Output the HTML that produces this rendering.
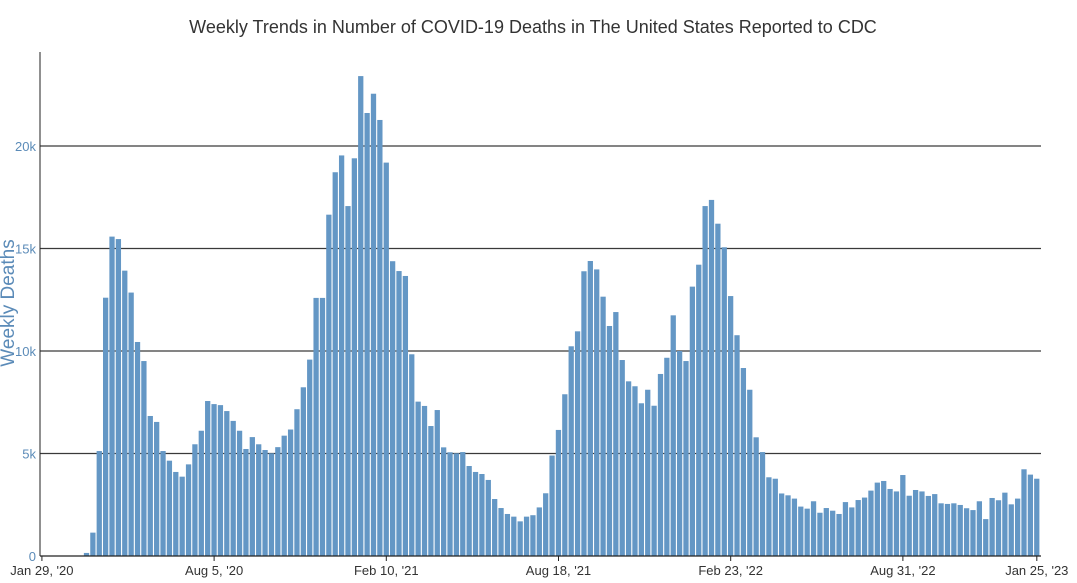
<!DOCTYPE html>
<html><head><meta charset="utf-8"><style>
body{margin:0;background:#fff;}
svg{display:block;font-family:"Liberation Sans",sans-serif;}
</style></head><body>
<svg id="chart" width="1077" height="583" viewBox="0 0 1077 583">
<text x="533" y="33" text-anchor="middle" font-size="18" fill="#333">Weekly Trends in Number of COVID-19 Deaths in The United States Reported to CDC</text>
<text transform="translate(14,303) rotate(-90)" text-anchor="middle" font-size="19" fill="#5b8bb8">Weekly Deaths</text>
<g id="grid"></g><g id="bars"></g><g id="axes"></g>
</svg>
<script>
const values=[0,0,0,0,0,0,0,150,1140,5120,12600,15580,15460,13920,12850,10440,9510,6830,6540,5120,4650,4100,3870,4470,5450,6110,7560,7410,7360,7070,6590,6110,5220,5800,5450,5170,5010,5310,5870,6170,7160,8230,9580,12590,12590,16650,18720,19540,17070,19400,23410,21610,22550,21270,19190,14380,13900,13660,9840,7530,7320,6340,7120,5300,5060,5010,5070,4390,4100,4000,3710,2780,2340,2050,1920,1690,1920,1990,2370,3060,4900,6150,7890,10230,10960,13890,14390,13980,12650,11220,11900,9560,8520,8280,7450,8110,7330,8880,9670,11740,10000,9510,13140,14210,17070,17370,16210,15060,12680,10770,9170,8110,5790,5070,3840,3770,3050,2960,2800,2410,2310,2670,2110,2340,2210,2050,2630,2370,2730,2850,3190,3580,3660,3270,3150,3950,2940,3220,3150,2930,3020,2570,2540,2570,2490,2330,2240,2670,1800,2830,2720,3090,2520,2800,4230,3970,3770];
const yTicks=[0,5000,10000,15000,20000];
const yTickLabels=["0","5k","10k","15k","20k"];
const xTickIdx=[0,27,54,81,108,135,156];
const xTickLabels=["Jan 29, '20","Aug 5, '20","Feb 10, '21","Aug 18, '21","Feb 23, '22","Aug 31, '22","Jan 25, '23"];
const NS="http://www.w3.org/2000/svg";
const X=i=>40+(i+0.3)*(1000/156.8);
const Y=v=>556-v*(410/20000);
const bw=1000/156.8;
function mk(tag,attrs,parent){const e=document.createElementNS(NS,tag);for(const k in attrs)e.setAttribute(k,attrs[k]);parent.appendChild(e);return e;}
const grid=document.getElementById('grid'),bars=document.getElementById('bars'),axes=document.getElementById('axes');
yTicks.forEach((t,k)=>{
  if(t>0){const l=mk('line',{x1:40,x2:1041,y1:Y(t),y2:Y(t),stroke:'#3a3a3a','stroke-width':1.3},grid);
  
  }
  const tx=mk('text',{x:36,y:Y(t)+5,'text-anchor':'end','font-size':13,fill:'#5b8bb8'},axes);
  tx.textContent=yTickLabels[k];
  
  
});
values.forEach((v,i)=>{
  if(v<=0)return;
  const r=mk('rect',{x:X(i)-bw/2+0.5,y:Y(v),width:bw-1.1,height:556-Y(v),fill:'#6497c5'},bars);
  
  
});
const ya=mk('line',{x1:40,x2:40,y1:52,y2:556,stroke:'#222','stroke-width':1},axes);


const xa=mk('line',{x1:40,x2:1041,y1:556,y2:556,stroke:'#222','stroke-width':1.2},axes);


xTickIdx.forEach((idx,k)=>{
  const tk=mk('line',{x1:X(idx),x2:X(idx),y1:556,y2:561,stroke:'#222'},axes);
  
  
  const tx=mk('text',{x:X(idx),y:575,'text-anchor':'middle','font-size':13,fill:'#333'},axes);
  tx.textContent=xTickLabels[k];
  
  
});
</script>
</body></html>
